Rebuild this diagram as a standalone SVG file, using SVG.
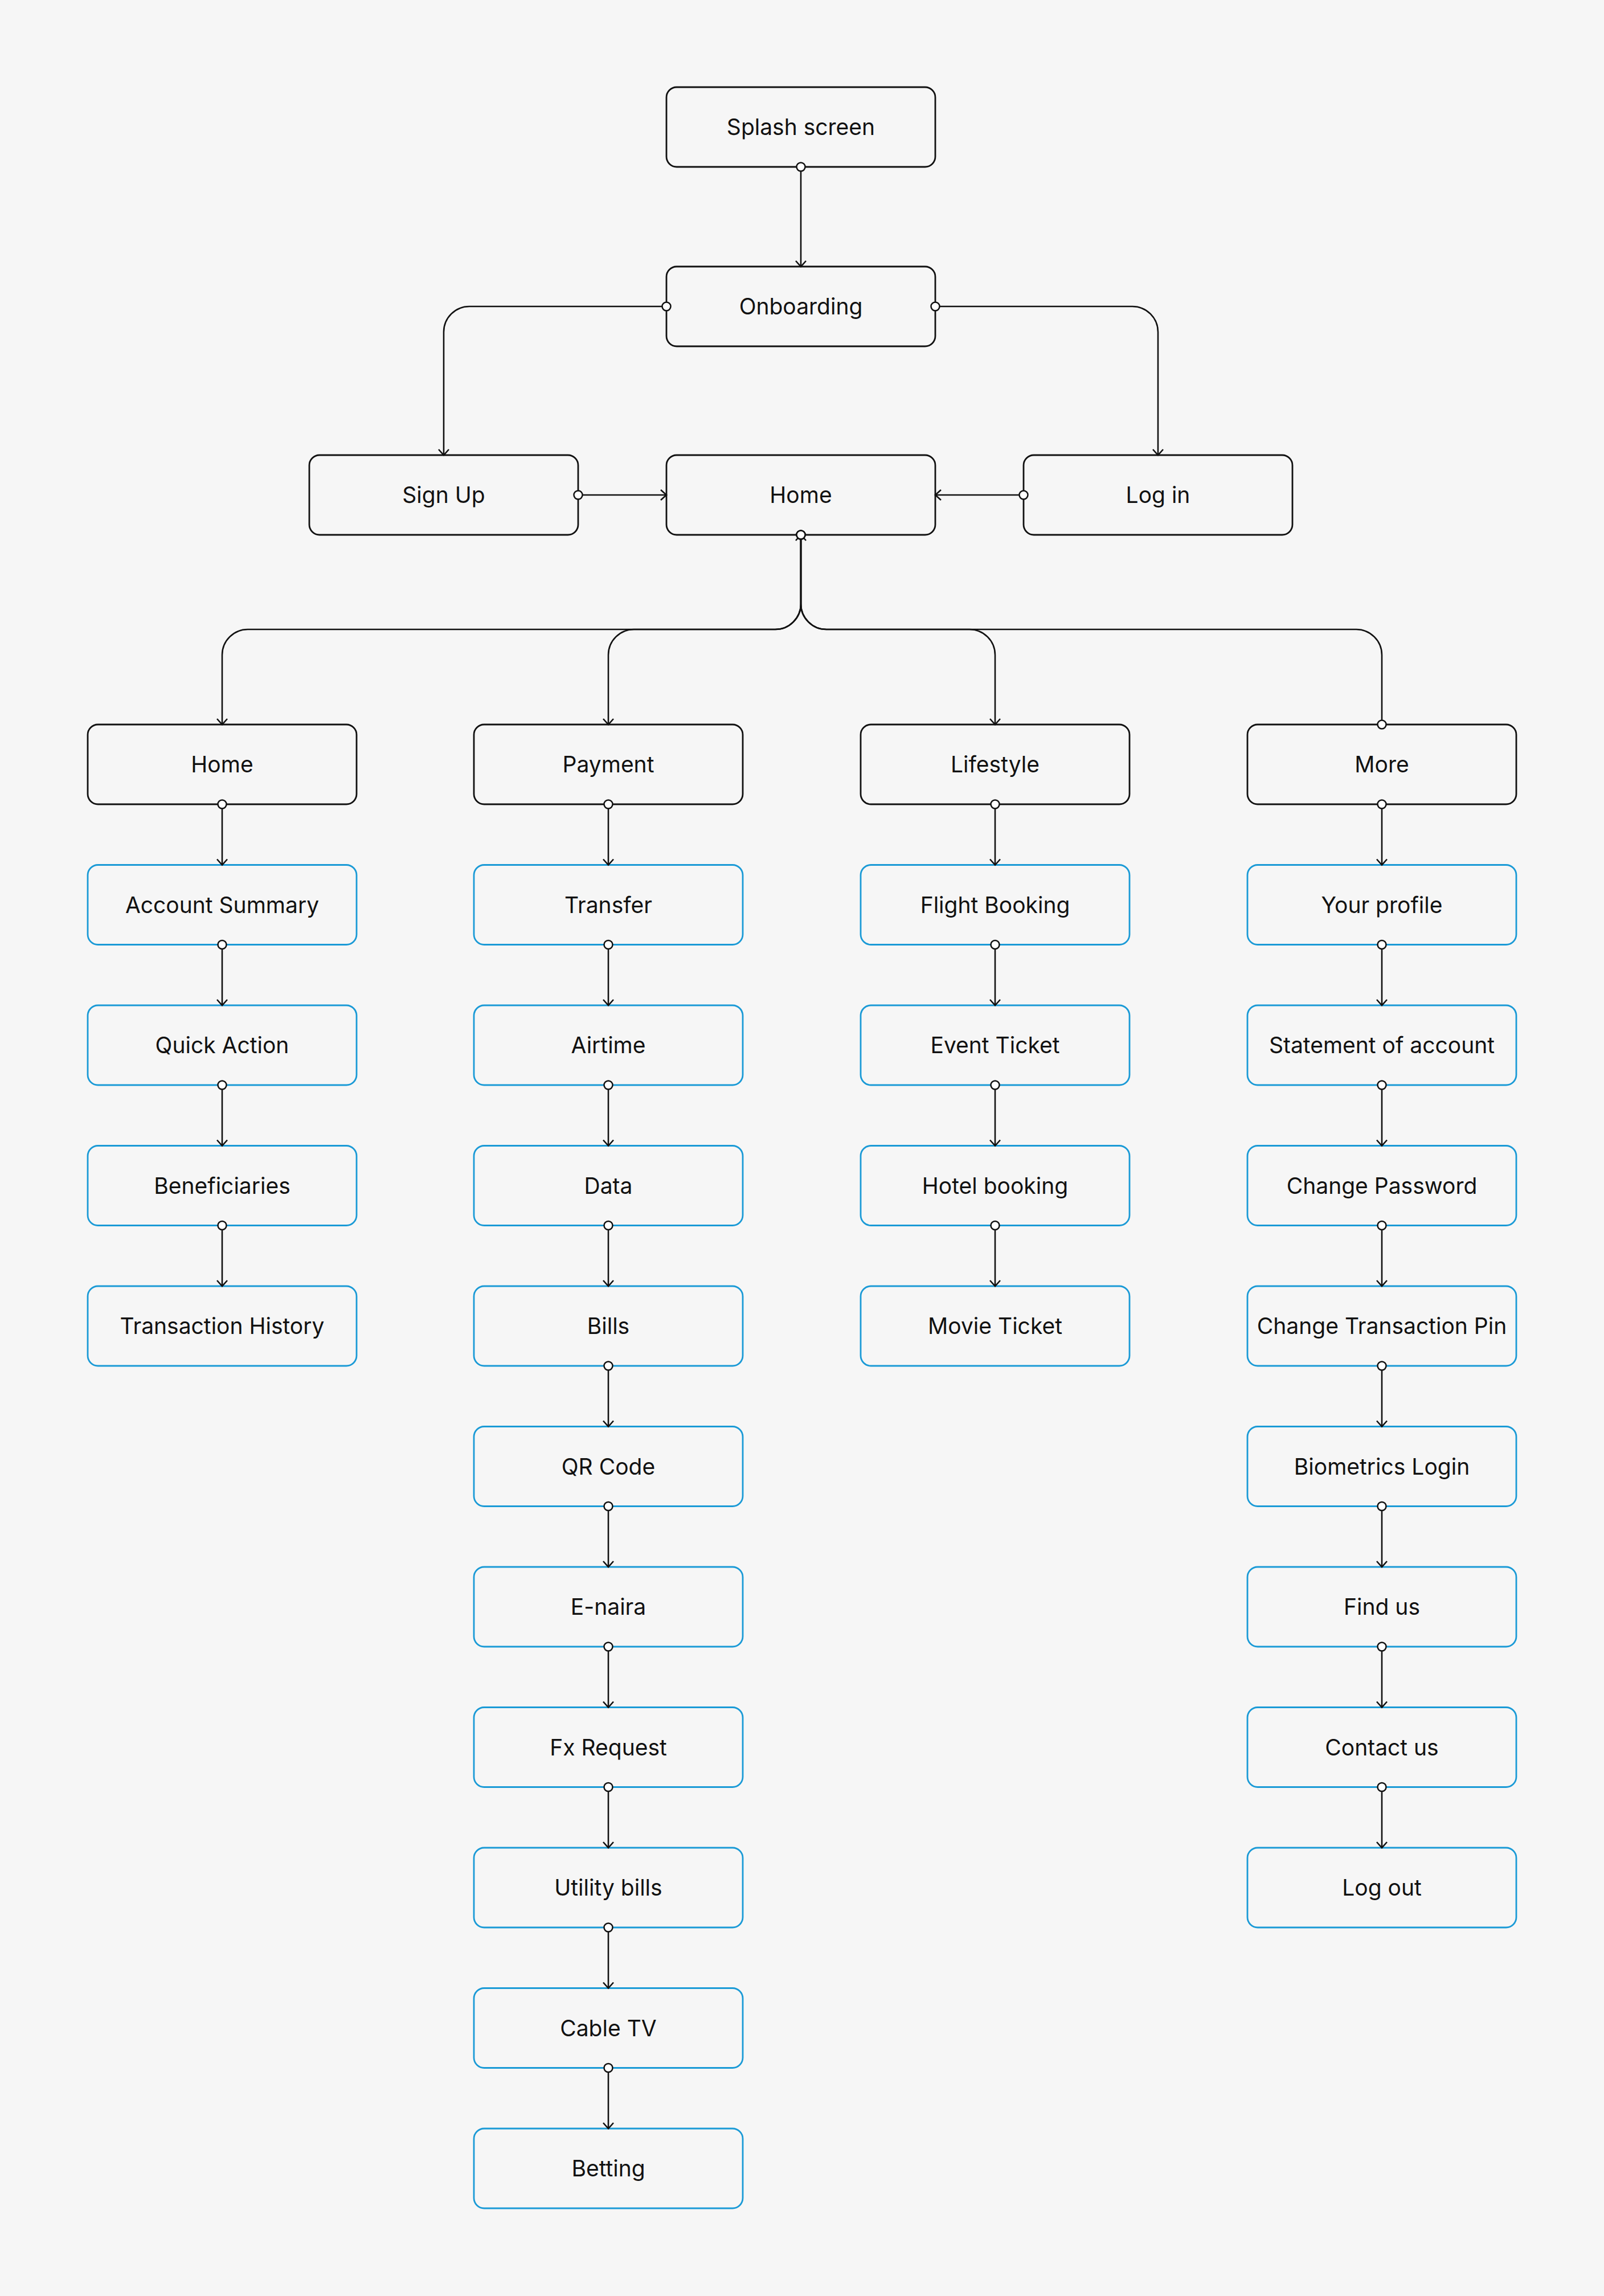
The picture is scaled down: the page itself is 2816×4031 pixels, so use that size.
<svg xmlns="http://www.w3.org/2000/svg" width="2816" height="4031" viewBox="0 0 2816 4031">
<style>
.bk{fill:#f6f6f6;stroke:#111;stroke-width:2.8}
.bl{fill:#f6f6f6;stroke:#1a9ad6;stroke-width:2.8}
.t{font-family:Inter,"Liberation Sans",sans-serif;font-size:39px;fill:#111;text-anchor:middle}
.c{fill:none;stroke:#111;stroke-width:2.6;marker-start:url(#dot);marker-end:url(#arr)}
.cu{fill:none;stroke:#111;stroke-width:2.6;marker-end:url(#arr)}
</style>
<defs>
<marker id="dot" markerUnits="userSpaceOnUse" viewBox="-11 -11 22 22" markerWidth="22" markerHeight="22" refX="0" refY="0" overflow="visible"><circle r="7.5" fill="#fff" stroke="#111" stroke-width="2.5"/></marker>
<marker id="arr" markerUnits="userSpaceOnUse" viewBox="-13 -13 26 26" markerWidth="26" markerHeight="26" refX="0" refY="0" orient="auto" overflow="visible"><path d="M-10,-9 L0,0 L-10,9" fill="none" stroke="#111" stroke-width="2.6" stroke-linejoin="miter"/></marker>
</defs>
<rect x="0" y="0" width="2816" height="4031" fill="#f6f6f6"/>

<g id="nodes">
<g id="n-splash"><rect class="bk" x="1170" y="153" width="472" height="140" rx="18"/><text class="t" x="1406" y="237">Splash screen</text></g>
<g id="n-onboarding"><rect class="bk" x="1170" y="468" width="472" height="140" rx="18"/><text class="t" x="1406" y="552">Onboarding</text></g>
<g id="n-signup"><rect class="bk" x="543" y="799" width="472" height="140" rx="18"/><text class="t" x="779" y="883">Sign Up</text></g>
<g id="n-home-main"><rect class="bk" x="1170" y="799" width="472" height="140" rx="18"/><text class="t" x="1406" y="883">Home</text></g>
<g id="n-login"><rect class="bk" x="1797" y="799" width="472" height="140" rx="18"/><text class="t" x="2033" y="883">Log in</text></g>

<g id="n-home"><rect class="bk" x="154" y="1272" width="472" height="140" rx="18"/><text class="t" x="390" y="1356">Home</text></g>
<g id="n-account-summary"><rect class="bl" x="154" y="1518.5" width="472" height="140" rx="18"/><text class="t" x="390" y="1602.5">Account Summary</text></g>
<g id="n-quick-action"><rect class="bl" x="154" y="1765" width="472" height="140" rx="18"/><text class="t" x="390" y="1849">Quick Action</text></g>
<g id="n-beneficiaries"><rect class="bl" x="154" y="2011.5" width="472" height="140" rx="18"/><text class="t" x="390" y="2095.5">Beneficiaries</text></g>
<g id="n-transaction-history"><rect class="bl" x="154" y="2258" width="472" height="140" rx="18"/><text class="t" x="390" y="2342">Transaction History</text></g>

<g id="n-payment"><rect class="bk" x="832" y="1272" width="472" height="140" rx="18"/><text class="t" x="1068" y="1356">Payment</text></g>
<g id="n-transfer"><rect class="bl" x="832" y="1518.5" width="472" height="140" rx="18"/><text class="t" x="1068" y="1602.5">Transfer</text></g>
<g id="n-airtime"><rect class="bl" x="832" y="1765" width="472" height="140" rx="18"/><text class="t" x="1068" y="1849">Airtime</text></g>
<g id="n-data"><rect class="bl" x="832" y="2011.5" width="472" height="140" rx="18"/><text class="t" x="1068" y="2095.5">Data</text></g>
<g id="n-bills"><rect class="bl" x="832" y="2258" width="472" height="140" rx="18"/><text class="t" x="1068" y="2342">Bills</text></g>
<g id="n-qr-code"><rect class="bl" x="832" y="2504.5" width="472" height="140" rx="18"/><text class="t" x="1068" y="2588.5">QR Code</text></g>
<g id="n-e-naira"><rect class="bl" x="832" y="2751" width="472" height="140" rx="18"/><text class="t" x="1068" y="2835">E-naira</text></g>
<g id="n-fx-request"><rect class="bl" x="832" y="2997.5" width="472" height="140" rx="18"/><text class="t" x="1068" y="3081.5">Fx Request</text></g>
<g id="n-utility-bills"><rect class="bl" x="832" y="3244" width="472" height="140" rx="18"/><text class="t" x="1068" y="3328">Utility bills</text></g>
<g id="n-cable-tv"><rect class="bl" x="832" y="3490.5" width="472" height="140" rx="18"/><text class="t" x="1068" y="3574.5">Cable TV</text></g>
<g id="n-betting"><rect class="bl" x="832" y="3737" width="472" height="140" rx="18"/><text class="t" x="1068" y="3821">Betting</text></g>

<g id="n-lifestyle"><rect class="bk" x="1511" y="1272" width="472" height="140" rx="18"/><text class="t" x="1747" y="1356">Lifestyle</text></g>
<g id="n-flight-booking"><rect class="bl" x="1511" y="1518.5" width="472" height="140" rx="18"/><text class="t" x="1747" y="1602.5">Flight Booking</text></g>
<g id="n-event-ticket"><rect class="bl" x="1511" y="1765" width="472" height="140" rx="18"/><text class="t" x="1747" y="1849">Event Ticket</text></g>
<g id="n-hotel-booking"><rect class="bl" x="1511" y="2011.5" width="472" height="140" rx="18"/><text class="t" x="1747" y="2095.5">Hotel booking</text></g>
<g id="n-movie-ticket"><rect class="bl" x="1511" y="2258" width="472" height="140" rx="18"/><text class="t" x="1747" y="2342">Movie Ticket</text></g>

<g id="n-more"><rect class="bk" x="2190" y="1272" width="472" height="140" rx="18"/><text class="t" x="2426" y="1356">More</text></g>
<g id="n-your-profile"><rect class="bl" x="2190" y="1518.5" width="472" height="140" rx="18"/><text class="t" x="2426" y="1602.5">Your profile</text></g>
<g id="n-statement"><rect class="bl" x="2190" y="1765" width="472" height="140" rx="18"/><text class="t" x="2426" y="1849">Statement of account</text></g>
<g id="n-change-password"><rect class="bl" x="2190" y="2011.5" width="472" height="140" rx="18"/><text class="t" x="2426" y="2095.5">Change Password</text></g>
<g id="n-change-pin"><rect class="bl" x="2190" y="2258" width="472" height="140" rx="18"/><text class="t" x="2426" y="2342">Change Transaction Pin</text></g>
<g id="n-biometrics"><rect class="bl" x="2190" y="2504.5" width="472" height="140" rx="18"/><text class="t" x="2426" y="2588.5">Biometrics Login</text></g>
<g id="n-find-us"><rect class="bl" x="2190" y="2751" width="472" height="140" rx="18"/><text class="t" x="2426" y="2835">Find us</text></g>
<g id="n-contact-us"><rect class="bl" x="2190" y="2997.5" width="472" height="140" rx="18"/><text class="t" x="2426" y="3081.5">Contact us</text></g>
<g id="n-log-out"><rect class="bl" x="2190" y="3244" width="472" height="140" rx="18"/><text class="t" x="2426" y="3328">Log out</text></g>
</g>

<g id="connectors">
<path class="c" d="M2426,1272 V1150 A45,45 0 0 0 2381,1105 H1451 A45,45 0 0 1 1406,1060 V939"/>
<path class="c" d="M1406,293 V468"/>
<path class="c" d="M1170,538 H824 A45,45 0 0 0 779,583 V799"/>
<path class="c" d="M1642,538 H1988 A45,45 0 0 1 2033,583 V799"/>
<path class="c" d="M1015,869 H1170"/>
<path class="c" d="M1797,869 H1642"/>
<path class="c" d="M1406,939 V1060 A45,45 0 0 1 1361,1105 H435 A45,45 0 0 0 390,1150 V1272"/>
<path class="c" d="M1406,939 V1060 A45,45 0 0 1 1361,1105 H1113 A45,45 0 0 0 1068,1150 V1272"/>
<path class="c" d="M1406,939 V1060 A45,45 0 0 0 1451,1105 H1702 A45,45 0 0 1 1747,1150 V1272"/>

<path class="c" d="M390,1412 V1518.5"/>
<path class="c" d="M390,1658.5 V1765"/>
<path class="c" d="M390,1905 V2011.5"/>
<path class="c" d="M390,2151.5 V2258"/>

<path class="c" d="M1068,1412 V1518.5"/>
<path class="c" d="M1068,1658.5 V1765"/>
<path class="c" d="M1068,1905 V2011.5"/>
<path class="c" d="M1068,2151.5 V2258"/>
<path class="c" d="M1068,2398 V2504.5"/>
<path class="c" d="M1068,2644.5 V2751"/>
<path class="c" d="M1068,2891 V2997.5"/>
<path class="c" d="M1068,3137.5 V3244"/>
<path class="c" d="M1068,3384 V3490.5"/>
<path class="c" d="M1068,3630.5 V3737"/>

<path class="c" d="M1747,1412 V1518.5"/>
<path class="c" d="M1747,1658.5 V1765"/>
<path class="c" d="M1747,1905 V2011.5"/>
<path class="c" d="M1747,2151.5 V2258"/>

<path class="c" d="M2426,1412 V1518.5"/>
<path class="c" d="M2426,1658.5 V1765"/>
<path class="c" d="M2426,1905 V2011.5"/>
<path class="c" d="M2426,2151.5 V2258"/>
<path class="c" d="M2426,2398 V2504.5"/>
<path class="c" d="M2426,2644.5 V2751"/>
<path class="c" d="M2426,2891 V2997.5"/>
<path class="c" d="M2426,3137.5 V3244"/>
</g>
</svg>
